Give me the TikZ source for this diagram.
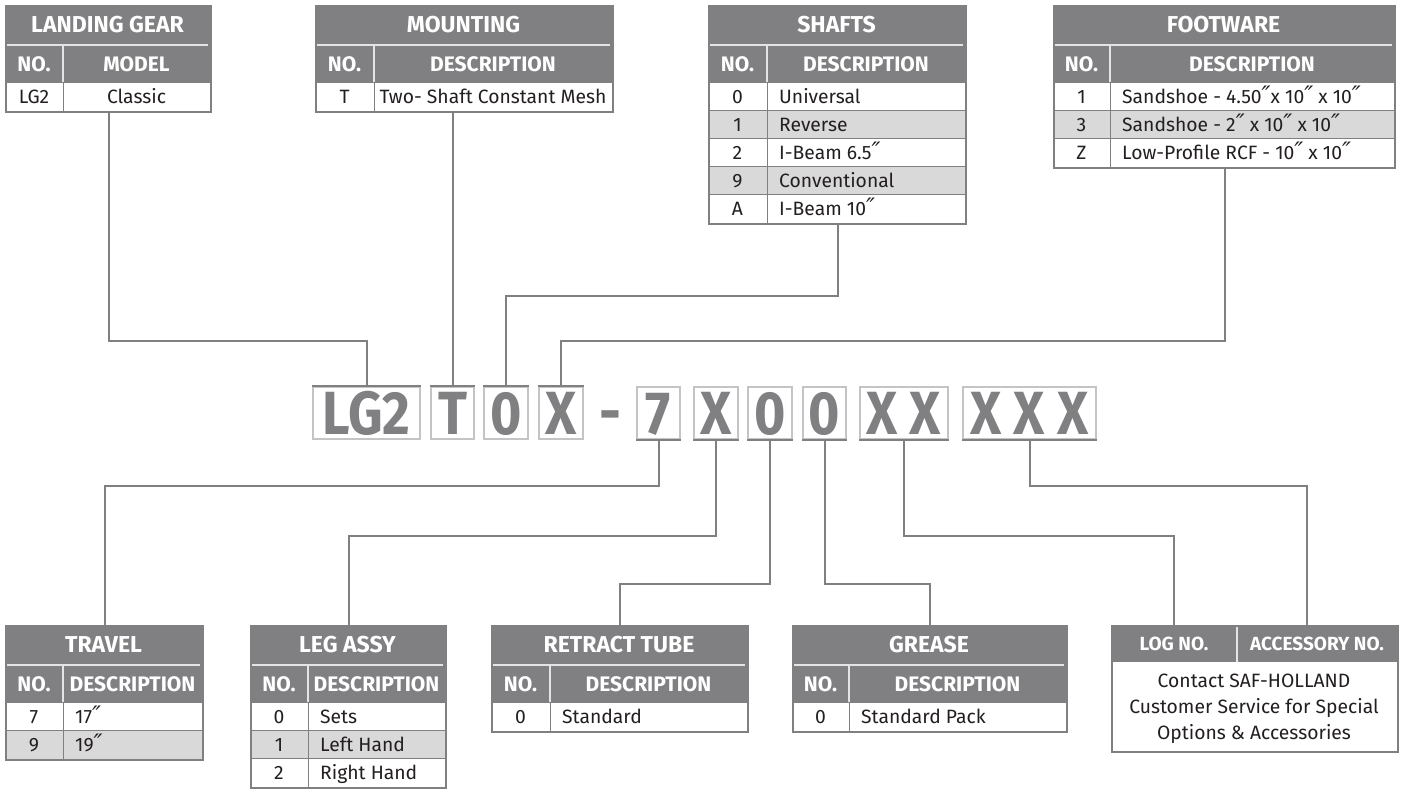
\documentclass[tikz,border=0pt]{standalone}
\usepackage{fontspec}
\setmainfont{Fira Sans}
\newfontfamily\codefont[FakeStretch=0.88]{Fira Sans}
\newfontfamily\dvfont{DejaVu Sans}
\newcommand{\dqt}{{\dvfont\slshape\fontsize{24}{26}\selectfont ″}}
\usetikzlibrary{calc}
\definecolor{tg}{RGB}{128,128,131}
\definecolor{rowg}{RGB}{217,217,217}
\definecolor{boxg}{RGB}{196,196,198}
\definecolor{txt}{RGB}{35,31,32}
\definecolor{hl}{RGB}{228,228,229}
\newcommand{\hdrfont}{\fontsize{23}{26}\selectfont\bfseries}
\newcommand{\subfont}{\fontsize{21}{24}\selectfont\bfseries}
\newcommand{\logfont}{\fontsize{19}{22}\selectfont\bfseries}
\newcommand{\datfont}{\fontsize{19.3}{26}\selectfont}
\newcommand{\codefnt}{\codefont\bfseries\fontsize{61}{61}\selectfont}
\newif\ifdcenter
\tikzset{
  conn/.style={draw=tg, line width=2pt},
  hdrline/.style={draw=hl, line width=1.2pt},
  rowline/.style={draw=tg, line width=1pt},
  frame/.style={draw=tg, line width=2.2pt, inner sep=0, anchor=north west},
  hdr/.style={text=white, font=\hdrfont, inner sep=0, text height=15.8pt, text depth=0pt},
  subh/.style={text=white, font=\subfont, inner sep=0, text height=14.5pt, text depth=0pt},
  logh/.style={text=white, font=\logfont, inner sep=0, text height=13.3pt, text depth=0pt},
  dat/.style={text=txt, font=\datfont, inner sep=0, text height=13.3pt, text depth=0pt},
  codebox/.style={draw=boxg, line width=2pt, minimum height=52pt, inner sep=0,
    font=\codefnt, text=tg, anchor=north west, text height=42pt, text depth=0pt},
}
% #1 name #2 x1 #3 xdiv #4 x2 #5 ytop #6 title #7 col2 #8 rows #9 nrows
\newcommand{\drawtable}[9]{%
  \pgfmathsetmacro{\hb}{#5+40}%
  \pgfmathsetmacro{\sb}{#5+77.5}%
  \fill[tg] (#2,#5) rectangle (#4,\sb);
  \draw[hdrline] (#2+2,\hb) -- (#4-2,\hb);
  \draw[hdrline] (#3,\hb) -- (#3,\sb);
  \node[hdr] (#1t) at ({(#2+#4)/2},{#5+20}) {#6};
  \node[subh] (#1n) at ({(#2+#3)/2},{#5+59}) {NO.};
  \node[subh] (#1d) at ({(#3+#4)/2},{#5+59}) {#7};
  \foreach \nn/\dsc/\ff [count=\i from 0] in {#8} {
    \pgfmathsetmacro{\ra}{\sb+28*\i}
    \fill[\ff] (#2,\ra) rectangle (#4,\ra+28);
    \draw[rowline] (#2,\ra) -- (#4,\ra);
    \node[dat] at ({(#2+#3)/2},\ra+14) {\nn};
    \ifdcenter
      \node[dat] at ({(#3+#4)/2},\ra+14) {\dsc};
    \else
      \node[dat,anchor=west] at (#3+12,\ra+14) {\dsc};
    \fi
  }
  \draw[rowline] (#3,\sb) -- (#3,{\sb+28*#9});
  \node[frame, minimum width=#4-#2, minimum height={77.5+28*#9}] (#1) at (#2,#5) {};
}
\begin{document}
\begin{tikzpicture}[x=1pt,y=-1pt]
\useasboundingbox (0,0) rectangle (1403,788);
\fill[white] (0,0) rectangle (1403,788);

% ---------- top tables
\dcentertrue
\drawtable{lg}{5}{63}{210}{5}{LANDING GEAR}{MODEL}{LG2/Classic/white}{1}
\drawtable{mt}{315}{374}{612}{5}{MOUNTING}{DESCRIPTION}{T/Two- Shaft Constant Mesh/white}{1}
\dcenterfalse
\drawtable{sh}{708}{767}{965}{5}{SHAFTS}{DESCRIPTION}{0/Universal/white,1/Reverse/rowg,2/I-Beam 6.5\dqt/white,9/Conventional/rowg,A/I-Beam 10\dqt/white}{5}
\drawtable{fw}{1053}{1110}{1394}{5}{FOOTWARE}{DESCRIPTION}{1/Sandshoe - 4.50\dqt x 10\dqt{} x 10\dqt/white,3/Sandshoe - 2\dqt{} x 10\dqt{} x 10\dqt/rowg,Z/Low-Profile RCF - 10\dqt{} x 10\dqt/white}{3}

% ---------- bottom tables
\drawtable{tr}{5}{63}{202}{625}{TRAVEL}{DESCRIPTION}{7/17\dqt/white,9/19\dqt/rowg}{2}
\drawtable{la}{250}{308}{445}{625}{LEG ASSY}{DESCRIPTION}{0/Sets/white,1/Left Hand/rowg,2/Right Hand/white}{3}
\drawtable{rt}{491}{550}{747}{625}{RETRACT TUBE}{DESCRIPTION}{0/Standard/white}{1}
\drawtable{gr}{792}{849}{1066}{625}{GREASE}{DESCRIPTION}{0/Standard Pack/white}{1}

% log / accessory table
\fill[tg] (1111,625) rectangle (1397,662);
\draw[hdrline] (1237,627) -- (1237,662);
\node[logh] (logno) at (1174,643.5) {LOG NO.};
\node[logh] (accno) at (1317,643.5) {ACCESSORY NO.};
\node[text=txt, font=\datfont, align=center, inner sep=0] (lbody) at (1254,709)
  {Contact SAF-HOLLAND\\Customer Service for Special\\Options \& Accessories};
\node[frame, minimum width=286, minimum height=126] (lt) at (1111,625) {};

% ---------- code row
\node[codebox, minimum width=107pt] (cLG) at (312,386) {LG2};
\node[codebox, minimum width=43pt] (cT) at (430,386) {T};
\node[codebox, minimum width=44pt] (c0a) at (483,386) {0};
\node[codebox, minimum width=44pt] (cXa) at (538,386) {X};
\node[font=\codefnt, text=tg, inner sep=0, text height=42pt, text depth=0pt] (dash) at (610,412) {-};
\node[codebox, minimum width=43pt] (c7) at (636,386) {7};
\node[codebox, minimum width=44pt] (cXb) at (693,386) {X};
\node[codebox, minimum width=44pt] (c0b) at (747,386) {0};
\node[codebox, minimum width=43pt] (c0c) at (802,386) {0};
\node[codebox, minimum width=88pt] (cXX) at (859,386) {X\hskip 12pt X};
\node[codebox, minimum width=133pt] (cXXX) at (962,386) {X\hskip 12pt X\hskip 12pt X};

% dark sides where connectors attach
\foreach \b in {cLG,cT,c0a,cXa} \draw[conn] (\b.north west) -- (\b.north east);
\foreach \b in {c7,cXb,c0b,c0c,cXX,cXXX} \draw[conn] (\b.south west) -- (\b.south east);

% ---------- connectors
\coordinate (hA) at (0,341);
\coordinate (hB) at (0,296);
\coordinate (hC) at (0,486);
\coordinate (hD) at (0,536);
\coordinate (hE) at (0,584);
\draw[conn] (lg.south) -- (lg.south |- hA) -| (cLG.north);
\draw[conn] (mt.south -| cT.north) -- (cT.north);
\draw[conn] (sh.south) -- (sh.south |- hB) -| (c0a.north);
\draw[conn] (fw.south) -- (fw.south |- hA) -| (cXa.north);
\draw[conn] (c7.south) -- (c7.south |- hC) -| (tr.north);
\draw[conn] (cXb.south) -- (cXb.south |- hD) -| (la.north);
\draw[conn] (c0b.south) -- (c0b.south |- hE) -| (rt.north);
\draw[conn] (c0c.south) -- (c0c.south |- hE) -| (gr.north);
\draw[conn] (cXX.south) -- (cXX.south |- hD) -| (logno.north |- lt.north);
\coordinate (accin) at ($(accno.north |- lt.north)+(-10,0)$);
\draw[conn] (cXXX.south) -- (cXXX.south |- hC) -| (accin);
\end{tikzpicture}
\end{document}
